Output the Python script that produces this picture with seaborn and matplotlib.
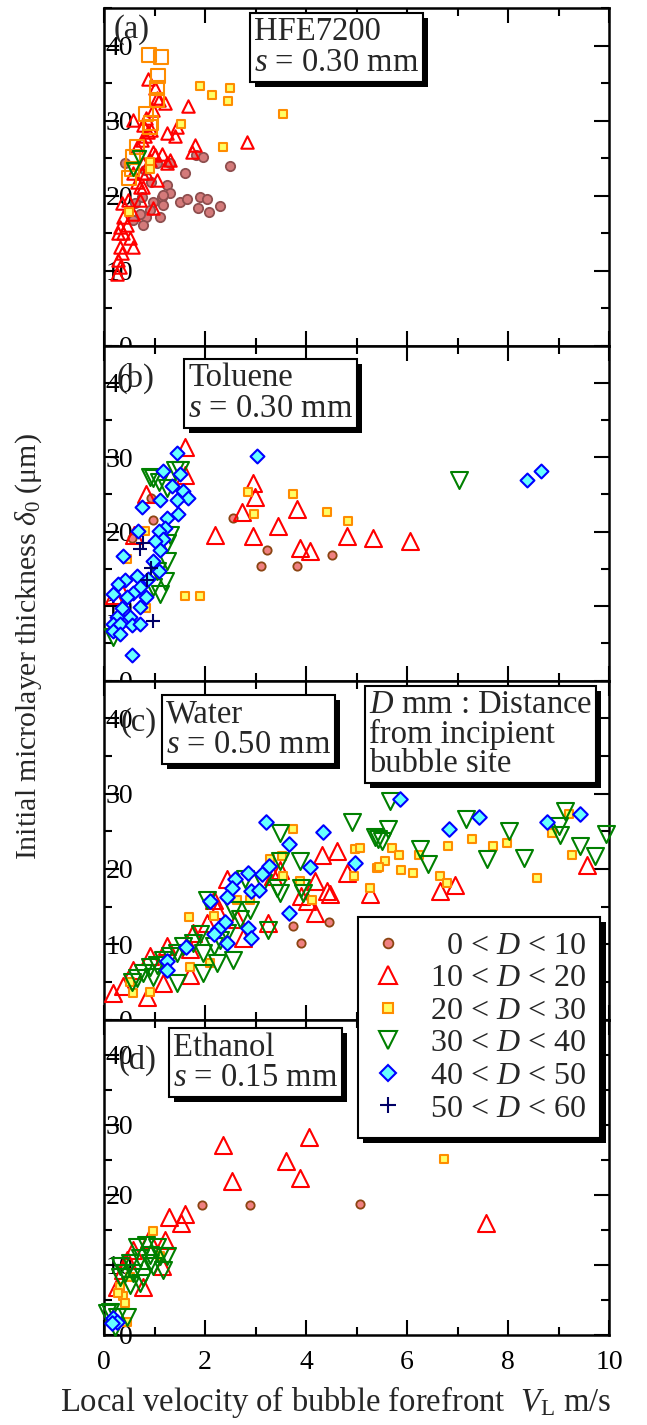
import numpy as np
import pandas as pd
import matplotlib
matplotlib.use("Agg")
import matplotlib.pyplot as plt
import matplotlib.patheffects as pe
from matplotlib.lines import Line2D
from matplotlib.ticker import MultipleLocator
import seaborn as sns

# ---------------- data (V_L in m/s, delta_0 in micrometre) ----------------
# Panel (a) HFE7200
A_D0_V = [0.42, 0.81, 1.04, 1.31, 1.24, 1.31, 1.14, 1.17, 0.98, 0.91, 0.84, 0.71, 0.58, 0.78, 1.11,
          1.50, 1.64, 1.60, 1.83, 1.97, 2.50, 1.90, 2.03, 1.87, 2.07, 2.30, 0.61, 0.75, 1.17, 0.94]
A_D0_T = [24.3, 23.4, 24.3, 24.3, 21.4, 20.3, 19.8, 18.7, 19.2, 18.1, 17.2, 17.6, 16.7, 16.1, 17.2,
          19.2, 19.6, 23.0, 25.4, 25.2, 23.9, 19.8, 19.5, 18.3, 17.8, 18.6, 19.0, 19.8, 20.1, 21.8]
A_D1_V = [0.25, 0.32, 0.28, 0.35, 0.32, 0.58, 0.28, 0.38, 0.32, 0.45, 0.38, 0.58, 0.35, 0.48, 0.71,
          0.78, 0.65, 0.75, 0.84, 1.04, 0.98, 0.78, 0.91, 1.01, 1.14, 1.24, 1.31, 0.98, 0.65, 0.75,
          0.81, 0.88, 0.94, 0.78, 0.58, 0.84, 0.98, 1.08, 1.21, 1.04, 1.01, 0.88, 1.44, 1.24, 1.41,
          1.67, 1.80, 1.74, 2.83, 0.51, 0.71, 0.58]
A_D1_T = [9.6, 10.5, 11.4, 12.3, 13.2, 13.2, 15.0, 15.0, 15.8, 16.1, 17.2, 17.6, 19.0, 19.4, 21.2,
          21.2, 21.8, 23.0, 23.0, 22.1, 18.3, 24.3, 24.7, 25.4, 25.6, 24.3, 24.7, 25.8, 26.5, 27.4,
          27.9, 28.5, 28.7, 29.4, 30.1, 30.3, 31.4, 32.7, 32.3, 33.0, 34.3, 35.6, 29.2, 28.3, 27.9,
          31.9, 26.7, 25.8, 27.1, 14.3, 19.4, 23.0]
A_D2_V = [1.90, 2.13, 2.50, 2.46, 3.55, 1.52, 2.36, 0.91, 0.92, 0.50]
A_D2_T = [34.6, 33.4, 34.3, 32.6, 30.9, 29.5, 26.5, 24.5, 23.6, 17.8]
A_D2_OPEN_V = [0.90, 1.13, 1.06, 1.04, 1.04, 0.84, 0.94, 0.91, 0.66, 0.58, 0.55, 0.50]
A_D2_OPEN_T = [38.7, 38.5, 35.9, 34.4, 32.7, 30.9, 29.7, 29.2, 26.5, 25.2, 23.6, 22.3]
A_D3_V = [0.70, 0.58]
A_D3_T = [25.2, 23.6]

# Panel (b) Toluene
B_D0_V = [2.55, 3.22, 3.10, 3.83, 4.51, 0.98, 0.94, 0.55]
B_D0_T = [21.8, 17.5, 15.4, 15.4, 16.9, 21.6, 24.5, 19.2]
B_D1_V = [1.60, 1.60, 0.84, 2.96, 2.99, 2.73, 3.82, 3.45, 2.20, 2.96, 3.88, 4.08, 4.81, 5.33, 6.05,
          0.30, 0.20, 0.60]
B_D1_T = [31.4, 27.6, 25.0, 26.5, 24.7, 22.7, 23.0, 20.7, 19.6, 19.4, 17.8, 17.4, 19.4, 19.2, 18.7,
          12.5, 11.5, 19.5]
B_D2_V = [2.86, 3.74, 2.97, 4.42, 4.84, 1.60, 1.91, 0.81, 0.45, 0.84]
B_D2_T = [25.3, 25.0, 22.4, 22.6, 21.4, 11.3, 11.4, 20.1, 16.3, 9.8]
B_D3_V = [0.98, 1.08, 0.91, 1.50, 1.41, 1.24, 1.31, 1.24, 1.24, 1.21, 1.11, 1.04, 0.18, 0.98, 7.02]
B_D3_T = [27.2, 26.7, 27.4, 28.3, 28.3, 25.8, 19.6, 18.5, 16.1, 13.4, 11.6, 14.7, 5.8, 12.5, 27.0]
B_D4_V = [1.45, 3.02, 1.17, 1.50, 1.34, 1.57, 1.67, 1.44, 1.11, 0.75, 1.47, 1.24, 1.21, 1.08, 0.68,
          1.17, 1.01, 1.11, 0.38, 0.98, 1.08, 0.65, 0.42, 0.88, 0.28, 0.71, 0.58, 0.84, 0.18, 0.45,
          0.71, 0.35, 0.25, 0.51, 0.18, 0.32, 0.55, 0.71, 0.18, 0.32, 0.55, 8.37, 8.65]
B_D4_T = [30.5, 30.1, 28.2, 27.7, 26.1, 25.4, 24.5, 24.3, 24.2, 23.3, 22.3, 21.8, 20.5, 20.1, 20.1,
          19.0, 18.7, 17.5, 16.7, 16.1, 14.7, 14.1, 13.5, 13.6, 13.0, 12.5, 11.8, 11.2, 11.6, 11.2,
          9.9, 9.8, 8.5, 8.5, 7.6, 7.6, 7.4, 7.6, 6.7, 6.3, 3.4, 27.0, 28.1]
B_D5_V = [0.71, 0.78, 0.94, 0.98, 0.85]
B_D5_T = [17.7, 18.5, 15.1, 8.0, 13.5]

# Panel (c) Water
C_D0_V = [3.74, 4.46, 3.90]
C_D0_T = [12.4, 12.9, 10.2]
C_D1_V = [0.18, 0.38, 0.58, 0.85, 1.17, 1.70, 1.77, 2.17, 2.23, 2.43, 2.63, 2.76, 3.25, 3.35, 3.49,
          4.18, 4.31, 4.61, 4.81, 4.41, 4.48, 4.18, 4.01, 3.91, 0.91, 1.24, 2.03, 1.70, 5.27, 6.65,
          6.95, 9.56]
C_D1_T = [3.5, 4.4, 6.6, 3.0, 4.8, 5.9, 11.5, 15.9, 14.6, 18.6, 13.3, 10.8, 12.8, 19.0, 19.9,
          18.4, 21.9, 22.4, 19.5, 17.0, 16.6, 14.2, 15.7, 16.4, 8.4, 9.7, 12.8, 9.3, 16.6, 17.0,
          17.8, 20.5]
C_D2_V = [3.75, 3.55, 3.52, 1.69, 3.88, 4.11, 4.97, 5.06, 4.95, 5.27, 5.40, 3.29, 2.63, 2.17, 2.10,
          0.58, 0.51, 0.91, 1.70, 2.89, 5.70, 5.85, 5.56, 5.45, 5.88, 6.11, 6.24, 6.82, 7.28, 7.71,
          7.99, 6.65, 6.80, 8.58, 8.87, 9.21, 9.27]
C_D2_T = [25.3, 19.0, 21.7, 13.6, 18.4, 15.9, 22.6, 22.8, 19.0, 17.5, 20.1, 21.3, 15.9, 13.7, 7.5,
          3.5, 5.0, 3.7, 7.0, 15.9, 22.8, 21.8, 21.0, 20.2, 19.8, 19.4, 21.9, 23.0, 23.9, 23.0,
          23.4, 19.0, 18.1, 18.8, 24.7, 27.3, 21.9]
C_D3_V = [4.92, 5.37, 3.49, 3.49, 3.88, 2.79, 3.15, 3.42, 3.49, 3.91, 3.95, 2.89, 2.56, 2.69, 3.25,
          2.56, 2.23, 1.97, 2.03, 1.90, 1.77, 1.57, 1.44, 1.31, 1.17, 1.04, 0.91, 0.78, 0.65, 0.55,
          1.44, 0.98, 2.17, 2.30, 2.43, 1.97, 5.66, 7.17, 5.63, 5.43, 5.51, 6.26, 6.42, 7.58, 8.01,
          8.32, 9.13, 9.00, 9.03, 9.43, 9.72, 9.95]
C_D3_T = [26.2, 24.2, 24.8, 21.0, 21.0, 18.6, 18.1, 17.4, 16.8, 17.5, 16.8, 14.6, 14.6, 13.3, 11.9,
          7.9, 7.5, 6.2, 15.9, 11.3, 10.2, 9.7, 8.8, 8.4, 7.9, 7.3, 7.0, 6.2, 5.5, 5.0,
          4.8, 5.7, 9.7, 10.6, 11.5, 8.8, 29.0, 26.6, 25.3, 23.9, 23.7, 22.6, 20.6, 21.3, 25.0,
          21.5, 27.7, 25.7, 24.5, 23.0, 21.7, 24.6]
C_D4_V = [3.21, 4.34, 3.67, 4.08, 4.97, 3.27, 3.12, 2.86, 2.59, 2.53, 2.43, 2.92, 3.06, 2.10, 3.67,
          2.40, 2.26, 2.17, 2.43, 2.86, 2.92, 1.62, 1.24, 1.24, 5.86, 6.84, 7.43, 8.77, 9.43]
C_D4_T = [26.2, 24.9, 23.3, 20.3, 20.8, 20.4, 19.3, 19.5, 18.7, 17.5, 16.3, 17.0, 17.2, 15.7, 14.2,
          12.9, 12.0, 11.3, 10.1, 12.2, 10.8, 9.6, 7.8, 6.6, 29.3, 25.3, 26.9, 26.2, 27.3]

# Panel (d) Ethanol
D_D0_V = [1.95, 2.89, 5.06]
D_D0_T = [18.6, 18.6, 18.7]
D_D1_V = [2.36, 4.05, 3.60, 2.53, 3.88, 1.29, 1.60, 1.52, 1.21, 0.90, 0.58, 0.78, 0.45, 0.38, 0.25,
          1.14, 7.56]
D_D1_T = [27.1, 28.2, 24.8, 21.9, 22.4, 16.9, 17.3, 16.0, 13.5, 13.7, 12.1, 6.9, 10.7, 9.3, 6.9,
          9.8, 16.0]
D_D2_V = [0.98, 6.74, 0.32, 0.38, 0.42, 0.45, 0.28, 0.51, 1.11]
D_D2_T = [14.9, 25.1, 6.9, 5.5, 4.5, 1.9, 6.0, 8.3, 11.2]
D_D3_V = [0.65, 0.84, 1.04, 1.24, 0.91, 0.71, 0.51, 0.32, 0.42, 0.58, 0.78, 0.98, 1.17, 0.71, 0.51,
          0.32, 0.91, 1.11, 0.12, 0.25, 0.45, 0.22, 0.05]
D_D3_T = [12.6, 12.9, 12.6, 11.2, 11.4, 11.0, 10.2, 9.8, 8.8, 8.8, 8.3, 9.8, 9.3, 7.4, 7.1,
          8.3, 10.2, 11.2, 3.3, 2.6, 2.6, 1.2, 3.1]
D_D4_V = [0.18, 0.25, 0.15]
D_D4_T = [2.4, 1.9, 1.7]

LEGEND_LABELS = ["  0 < $D$ < 10", "10 < $D$ < 20", "20 < $D$ < 30",
                 "30 < $D$ < 40", "40 < $D$ < 50", "50 < $D$ < 60"]
PANEL_TAGS = ["(a)", "(b)", "(c)", "(d)"]
PANEL_BOXES = ["HFE7200\n$s$ = 0.30 mm", "Toluene\n$s$ = 0.30 mm",
               "Water\n$s$ = 0.50 mm", "Ethanol\n$s$ = 0.15 mm"]
NOTE_TEXT = "$D$ mm : Distance\nfrom incipient\nbubble site"
X_TICKS = [0, 2, 4, 6, 8, 10]
Y_TICKS = [0, 10, 20, 30, 40]

# ---------------- style ----------------
sns.set_style("ticks")
plt.rcParams["font.family"] = ["Liberation Serif", "DejaVu Serif"]
plt.rcParams["mathtext.fontset"] = "custom"
plt.rcParams["mathtext.rm"] = "Liberation Serif"
plt.rcParams["mathtext.it"] = "Liberation Serif:italic"
plt.rcParams["mathtext.bf"] = "Liberation Serif:bold"
FS_TICK = 20
FS_BOX = 23.5
FS_LEG = 23

NONE = (0, 0, 0, 0)
STY = {
    "D0": dict(marker="o", fc="#F08080", ec="#8B4513", lw=1.3),
    "D0a": dict(marker="o", fc="#D47A7A", ec="#8E4F4F", lw=1.3),
    "D1": dict(marker="^", fc=NONE, ec="#FF0000", lw=1.5),
    "D2": dict(marker="s", fc="#FFFF66", ec="#FF8C00", lw=1.5),
    "D2o": dict(marker="s", fc=NONE, ec="#FF8C00", lw=1.5),
    "D3": dict(marker="v", fc=NONE, ec="#008000", lw=1.5),
    "D4": dict(marker="D", fc="#66FFFF", ec="#0000FF", lw=1.5),
    "D5": dict(marker="+", fc="#000066", ec="#000066", lw=1.5),
}

W, H = 647, 1425
fig = plt.figure(figsize=(W / 100, H / 100), dpi=100)

def fx(px):
    return px / W

def fy(py):
    return 1 - py / H

L, R = 104, 609
bounds = [(8, 345.5), (345.5, 680.5), (680.5, 1019.5), (1019.5, 1335)]
axes = []
for top, bot in bounds:
    ax = fig.add_axes([fx(L), fy(bot), fx(R) - fx(L), (bot - top) / H])
    axes.append(ax)


def draw(ax, v, t, key, s, z=3):
    st = STY[key]
    df = pd.DataFrame({"v": v, "t": t})
    sns.scatterplot(data=df, x="v", y="t", ax=ax, marker=st["marker"], s=s,
                    facecolor=st["fc"], edgecolor=st["ec"], linewidth=st["lw"],
                    legend=False, zorder=z, clip_on=False)


# panel a
ax = axes[0]
draw(ax, A_D0_V, A_D0_T, "D0a", 45)
draw(ax, A_D1_V, A_D1_T, "D1", 80)
draw(ax, A_D2_OPEN_V, A_D2_OPEN_T, "D2o", 95)
draw(ax, A_D2_V, A_D2_T, "D2", 40)
draw(ax, A_D3_V, A_D3_T, "D3", 90)
# panel b
ax = axes[1]
draw(ax, B_D0_V, B_D0_T, "D0", 36)
draw(ax, B_D1_V, B_D1_T, "D1", 150)
draw(ax, B_D2_V, B_D2_T, "D2", 40)
draw(ax, B_D3_V, B_D3_T, "D3", 150)
draw(ax, B_D4_V, B_D4_T, "D4", 50)
draw(ax, B_D5_V, B_D5_T, "D5", 110)
# panel c
ax = axes[2]
draw(ax, C_D0_V, C_D0_T, "D0", 36)
draw(ax, C_D1_V, C_D1_T, "D1", 150)
draw(ax, C_D2_V, C_D2_T, "D2", 40)
draw(ax, C_D3_V, C_D3_T, "D3", 150)
draw(ax, C_D4_V, C_D4_T, "D4", 55)
# panel d
ax = axes[3]
draw(ax, D_D0_V, D_D0_T, "D0", 36)
draw(ax, D_D1_V, D_D1_T, "D1", 150)
draw(ax, D_D2_V, D_D2_T, "D2", 40)
draw(ax, D_D3_V, D_D3_T, "D3", 150)
draw(ax, D_D4_V, D_D4_T, "D4", 55)

for i, ax in enumerate(axes):
    ax.set_xlim(0, 10)
    ax.set_ylim(0, 45)
    ax.set_xticks(X_TICKS)
    ax.set_yticks(Y_TICKS)
    ax.xaxis.set_minor_locator(MultipleLocator(1))
    ax.yaxis.set_minor_locator(MultipleLocator(5))
    ax.tick_params(which="both", direction="in", top=True, right=True, width=1.5,
                   labelsize=FS_TICK, colors="black")
    ax.tick_params(which="major", length=11)
    ax.tick_params(which="minor", length=5.5)
    ax.tick_params(axis="y", pad=-21)
    ax.tick_params(axis="x", pad=11, labelbottom=(i == 3))
    ax.set_xlabel("")
    ax.set_ylabel("")
    for sp in ax.spines.values():
        sp.set_linewidth(1.8)
        sp.set_color("black")
        sp.set_visible(True)
    for lab in ax.get_yticklabels():
        lab.set_zorder(10)

# panel tags
tag_pos = [(114, 30), (117, 378), (121, 723), (119, 1060)]
for tag, (px, py) in zip(PANEL_TAGS, tag_pos):
    fig.text(fx(px), fy(py), tag, fontsize=FS_BOX, ha="left", va="center")

shadow = [pe.SimplePatchShadow(offset=(3.8, -3.8), shadow_rgbFace="black", alpha=1.0),
          pe.Normal()]

def box(px, py, txt, ls=1.0):
    t = fig.text(fx(px), fy(py), txt, fontsize=FS_BOX, ha="left", va="top",
                 linespacing=ls, zorder=6,
                 bbox=dict(boxstyle="square,pad=0.12", fc="white", ec="black", lw=1.5))
    t.get_bbox_patch().set_path_effects(shadow)
    return t

box_pos = [(254, 17), (188, 363), (166, 699), (173, 1032)]
for txt, (px, py) in zip(PANEL_BOXES, box_pos):
    box(px, py, txt)
box(369, 690, NOTE_TEXT, ls=0.93)

# legend
handles = [
    Line2D([], [], ls="none", marker="o", ms=7, mfc="#F08080", mec="#8B4513", mew=1.3),
    Line2D([], [], ls="none", marker="^", ms=13, mfc="none", mec="#FF0000", mew=1.5),
    Line2D([], [], ls="none", marker="s", ms=6.5, mfc="#FFFF66", mec="#FF8C00", mew=1.5),
    Line2D([], [], ls="none", marker="v", ms=13, mfc="none", mec="#008000", mew=1.5),
    Line2D([], [], ls="none", marker="D", ms=8.5, mfc="#66FFFF", mec="#0000FF", mew=1.5),
    Line2D([], [], ls="none", marker="+", ms=12, mfc="#000066", mec="#000066", mew=1.5),
]
leg = fig.legend(handles, LEGEND_LABELS, loc="upper left",
                 bbox_to_anchor=(fx(358), fy(917)), frameon=True, fancybox=False,
                 edgecolor="black", framealpha=1, fontsize=FS_LEG, handlelength=1.0,
                 handletextpad=0.8, labelspacing=0.1, borderpad=0.45,
                 borderaxespad=0)
leg.get_frame().set_linewidth(1.5)
leg.get_frame().set_path_effects(shadow)
leg.set_zorder(7)

# axis labels
fig.text(fx(29), fy(647), "Initial microlayer thickness $\\delta_0$ (μm)", fontsize=21.5,
         rotation=90, ha="center", va="center")
fig.text(fx(336), fy(1402), "Local velocity of bubble forefront  $V_{\\rm L}$ m/s",
         fontsize=23.5, ha="center", va="center")

fig.savefig("out.png", dpi=100)
